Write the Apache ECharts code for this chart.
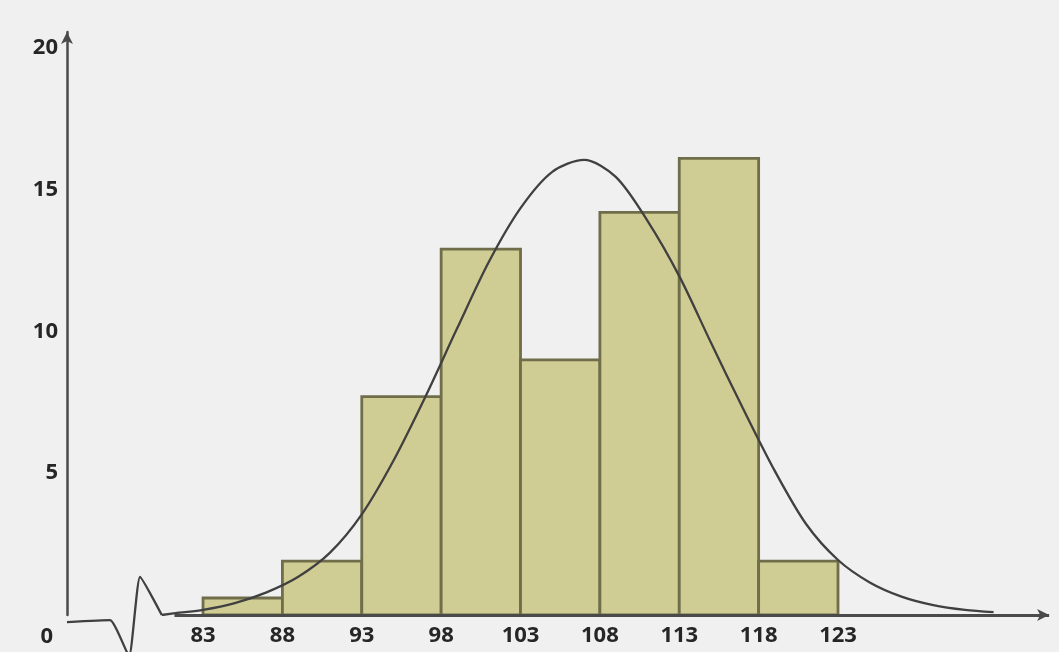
<!DOCTYPE html>
<html>
<head>
<meta charset="utf-8">
<script src="https://cdn.jsdelivr.net/npm/echarts@6/dist/echarts.min.js"></script>
<style>
html,body{margin:0;padding:0;background:#f0f0f0;}
#chart{width:1059px;height:652px;}
</style>
</head>
<body>
<div id="chart"></div>
<script>
// Histogram bin edges (x tick labels) and bar heights
const binEdges = [83, 88, 93, 98, 103, 108, 113, 118, 123];
const counts = [0.6, 1.9, 7.7, 12.9, 9.0, 14.2, 16.1, 1.9];
const yTicks = [0, 5, 10, 15, 20];

// Fitted curve
const curveX = [80.4, 81.5, 83, 85, 87, 89, 91, 93, 95, 97, 99, 101, 103, 105, 107, 109, 111, 113, 115, 117, 119, 121, 123, 125, 127, 129, 131, 132.8];
const curveY = [0.0, 0.08, 0.18, 0.42, 0.8, 1.35, 2.2, 3.55, 5.45, 7.69, 10.1, 12.45, 14.35, 15.63, 16.05, 15.45, 13.9, 11.95, 9.6, 7.3, 5.1, 3.2, 1.94, 1.15, 0.65, 0.35, 0.18, 0.1];

// Axis-break squiggle near the origin
const breakX = [74.43, 77.14, 78.34, 79.03, 80.4];
const breakY = [-0.25, -0.18, -1.45, 1.34, 0.0];

const xMin = 74.43, xMax = 136.67, yMax = 20.56;
const xLineStart = 81.2, xLineEnd = 136.3, xLineLevel = 0;

const labelFont = {fontFamily: 'Open Sans', fontWeight: 'bold', fontSize: 22, color: '#262626'};

const chart = echarts.init(document.getElementById('chart'));
chart.setOption({
  backgroundColor: '#f0f0f0',
  animation: false,
  grid: {left: 67, right: 4, top: 32, bottom: 37, containLabel: false},
  xAxis: {
    type: 'value', min: xMin, max: xMax,
    axisLine: {show: false},
    axisTick: {show: false},
    splitLine: {show: false},
    axisLabel: Object.assign({customValues: binEdges, margin: 10}, labelFont)
  },
  yAxis: {
    type: 'value', min: 0, max: yMax,
    axisLine: {show: true, symbol: ['none', 'arrow'], symbolSize: [9, 12], lineStyle: {color: '#4a4a4a', width: 2.5}},
    axisTick: {show: false},
    splitLine: {show: false},
    axisLabel: Object.assign({
      customValues: yTicks, margin: 9,
      formatter: v => v === 0 ? '{z|0}' : String(v),
      rich: {z: Object.assign({padding: [44, 5, 0, 0]}, labelFont)}
    }, labelFont)
  },
  series: [
    {
      type: 'custom',
      data: counts.map((v, i) => [binEdges[i], binEdges[i + 1], v]),
      encode: {x: [0, 1], y: 2},
      z: 2,
      renderItem: function (params, api) {
        const p0 = api.coord([api.value(0), api.value(2)]);
        const p1 = api.coord([api.value(1), 0]);
        return {
          type: 'rect',
          shape: {x: p0[0], y: p0[1], width: p1[0] - p0[0], height: p1[1] - p0[1]},
          style: {fill: '#d0cd94', stroke: '#6f6d4a', lineWidth: 2.8}
        };
      }
    },
    {
      type: 'line',
      data: curveX.map((x, i) => [x, curveY[i]]),
      smooth: 0.3,
      showSymbol: false,
      z: 4,
      lineStyle: {color: '#404040', width: 2.3},
      markLine: {
        silent: true,
        symbol: ['none', 'arrow'],
        symbolSize: [9, 12],
        label: {show: false},
        lineStyle: {color: '#4a4a4a', width: 2.8, type: 'solid'},
        data: [[{coord: [xLineStart, xLineLevel]}, {coord: [xLineEnd, xLineLevel]}]]
      }
    },
    {
      type: 'line',
      data: breakX.map((x, i) => [x, breakY[i]]),
      clip: false,
      showSymbol: false,
      smooth: 0.15,
      z: 4,
      lineStyle: {color: '#404040', width: 2.3}
    }
  ]
});
</script>
</body>
</html>
